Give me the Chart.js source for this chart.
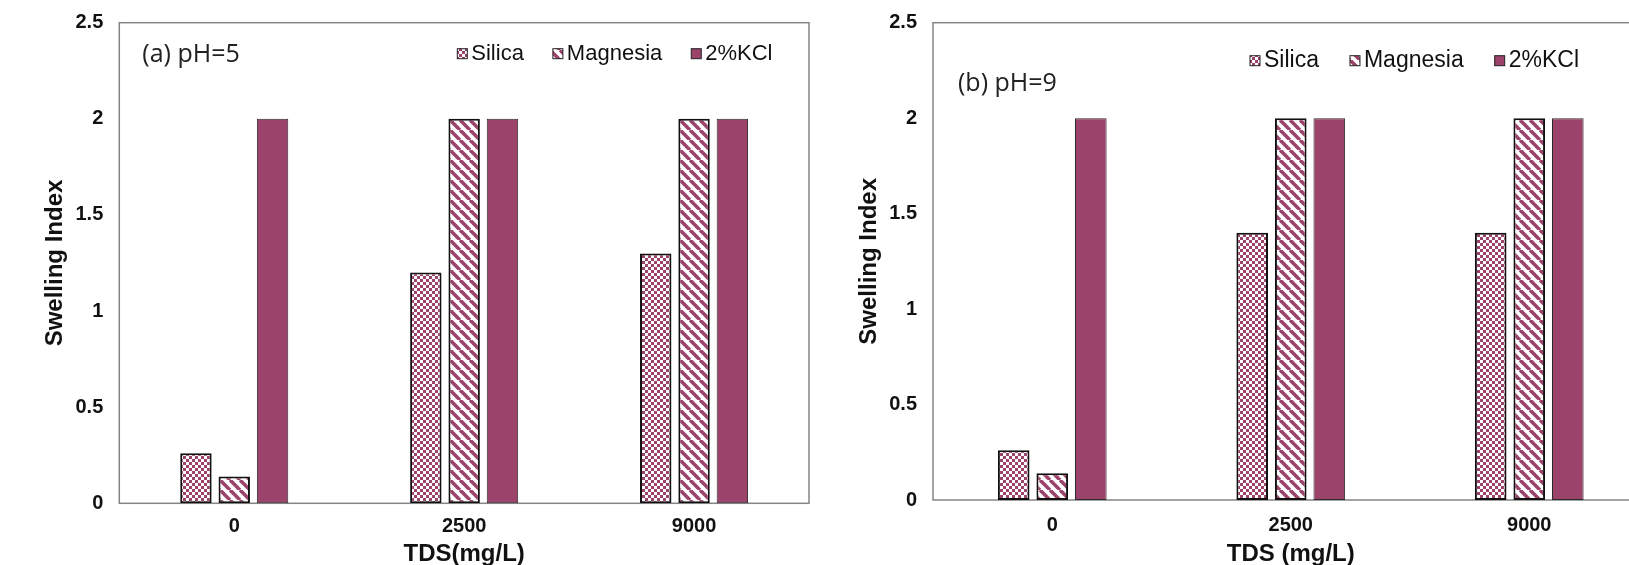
<!DOCTYPE html>
<html>
<head>
<title>Swelling Index</title>
<script src="https://cdn.jsdelivr.net/npm/chart.js"></script>
<style>
  html, body { margin: 0; padding: 0; background: #fff; overflow: hidden; }
  #wrap { position: relative; width: 1629px; height: 565px; overflow: hidden; }
  #left { position: absolute; left: 0; top: 0; width: 820px; height: 565px; }
  #right { position: absolute; left: 820px; top: 0; width: 850px; height: 565px; }
</style>
</head>
<body>
<div id="wrap">
  <div id="left"><canvas id="chartA"></canvas></div>
  <div id="right"><canvas id="chartB"></canvas></div>
</div>

<script>
// values
const categories = ['0', '2500', '9000'];
const seriesNames = ['Silica', 'Magnesia', '2%KCl'];
const yTicks = [0, 0.5, 1, 1.5, 2, 2.5];

const silicaPH5 = [0.26, 1.2, 1.3];
const magnesiaPH5 = [0.14, 2, 2];
const kclPH5 = [2, 2, 2];

const silicaPH9 = [0.26, 1.4, 1.4];
const magnesiaPH9 = [0.14, 2, 2];
const kclPH9 = [2, 2, 2];

const maroon = '#9b436b';

function makePattern(size, paint) {
    const c = document.createElement('canvas');
    c.width = size; c.height = size;
    const g = c.getContext('2d');
    paint(g, size);
    return g.createPattern(c, 'repeat');
}

// checker fill for silica
const checker = makePattern(6, (g, s) => {
    g.fillStyle = maroon;
    g.fillRect(0, 0, s, s);
    g.fillStyle = '#fff';
    g.fillRect(0, 0, 3, 3);
    g.fillRect(3, 3, 3, 3);
});

// "\" stripes for magnesia
const stripes = makePattern(10, (g, s) => {
    g.fillStyle = '#fff';
    g.fillRect(0, 0, s, s);
    g.strokeStyle = maroon;
    g.lineWidth = 3.6;
    for (const o of [-s, 0, s]) {
        g.beginPath();
        g.moveTo(o, 0);
        g.lineTo(o + s, s);
        g.stroke();
    }
});

// grey box around the plot area
const framePlugin = {
    id: 'frame',
    beforeDatasetsDraw(chart) {
        const {ctx, chartArea: a} = chart;
        ctx.save();
        ctx.strokeStyle = '#858585';
        ctx.lineWidth = 1.5;
        ctx.strokeRect(a.left, a.top, a.right - a.left, a.bottom - a.top);
        ctx.restore();
    }
};

// "(a) pH=5" style label inside the plot
const panelLabel = {
    id: 'panelLabel',
    afterDatasetsDraw(chart, args, opts) {
        const {ctx, chartArea: a} = chart;
        ctx.save();
        ctx.font = opts.size + 'px "Open Sans", sans-serif';
        ctx.fillStyle = '#222';
        ctx.textBaseline = 'middle';
        ctx.fillText(opts.text, a.left + opts.x, a.top + opts.y);
        ctx.restore();
    }
};

// legend drawn inside the plot area, top right
const insideLegend = {
    id: 'insideLegend',
    afterDatasetsDraw(chart, args, opts) {
        const {ctx, chartArea: a} = chart;
        const box = opts.box;
        let x = a.left + opts.x;
        const y = a.top + opts.y;
        ctx.save();
        ctx.font = opts.size + 'px "Liberation Sans", Arial, sans-serif';
        ctx.textBaseline = 'middle';
        chart.data.datasets.forEach(ds => {
            ctx.fillStyle = ds.backgroundColor;
            ctx.fillRect(x, y - box / 2, box, box);
            ctx.strokeStyle = '#222';
            ctx.lineWidth = 1;
            ctx.strokeRect(x, y - box / 2, box, box);
            x += box + opts.gap;
            ctx.fillStyle = '#111';
            ctx.fillText(ds.label, x, y);
            x += ctx.measureText(ds.label).width + opts.spacing;
        });
        ctx.restore();
    }
};

function makeDatasets(silica, magnesia, kcl) {
    return [
        { label: seriesNames[0], data: silica, backgroundColor: checker, borderColor: '#111', borderWidth: 2 },
        { label: seriesNames[1], data: magnesia, backgroundColor: stripes, borderColor: '#111', borderWidth: 2 },
        { label: seriesNames[2], data: kcl, backgroundColor: maroon, borderColor: '#2a2a2a', borderWidth: 1 }
    ];
}

function makeChart(id, cfg) {
    const tickFont = { family: '"Liberation Sans", Arial, sans-serif', size: 20, weight: 'bold' };
    const titleFont = { family: '"Liberation Sans", Arial, sans-serif', size: 24, weight: 'bold', lineHeight: 0.9 };

    new Chart(document.getElementById(id), {
        type: 'bar',
        data: {
            labels: categories,
            datasets: makeDatasets(cfg.silica, cfg.magnesia, cfg.kcl).map(d => Object.assign(d, {
                borderSkipped: false,
                categoryPercentage: cfg.catPct,
                barPercentage: 0.82
            }))
        },
        options: {
            responsive: true,
            maintainAspectRatio: false,
            animation: false,
            layout: { padding: { left: 0, right: cfg.padRight, top: 22.7, bottom: 0 } },
            plugins: {
                legend: { display: false },
                tooltip: { enabled: false },
                panelLabel: { text: cfg.label, size: 25, x: cfg.labelX, y: cfg.labelY },
                insideLegend: { size: cfg.legendSize, box: 10, gap: 4, spacing: cfg.legendSpacing, x: cfg.legendX, y: cfg.legendY }
            },
            scales: {
                x: {
                    grid: { display: false, drawTicks: false },
                    border: { display: false },
                    ticks: { color: '#111', font: tickFont, padding: cfg.xTickPad },
                    title: { display: true, text: cfg.xTitle, color: '#111', font: titleFont, padding: 0 },
                    afterFit: s => { s.height = 565 - cfg.zeroY; s.paddingLeft = 0; s.paddingRight = 0; }
                },
                y: {
                    min: 0,
                    max: 2.5,
                    afterBuildTicks: s => { s.ticks = yTicks.map(v => ({ value: v })); },
                    grid: { display: false, drawTicks: false },
                    border: { display: false },
                    ticks: { color: '#111', font: tickFont, padding: 16, callback: v => String(v) },
                    title: { display: true, text: 'Swelling Index', color: '#111', font: { family: '"Liberation Sans", Arial, sans-serif', size: 24, weight: 'bold' }, padding: { top: cfg.yTitlePad, bottom: 0 } },
                    afterFit: s => { s.width = cfg.axisX; s.paddingTop = 0; s.paddingBottom = 0; }
                }
            }
        },
        plugins: [framePlugin, panelLabel, insideLegend]
    });
}

makeChart('chartA', {
    silica: silicaPH5, magnesia: magnesiaPH5, kcl: kclPH5,
    label: '(a) pH=5', labelX: 23, labelY: 32,
    legendSize: 22, legendX: 338, legendY: 31, legendSpacing: 29,
    xTitle: 'TDS(mg/L)', xTickPad: 11,
    axisX: 119.3, padRight: 11, zeroY: 503.3, yTitlePad: 41, catPct: 0.5
});

makeChart('chartB', {
    silica: silicaPH9, magnesia: magnesiaPH9, kcl: kclPH9,
    label: '(b) pH=9', labelX: 25, labelY: 61,
    legendSize: 23, legendX: 317, legendY: 38, legendSpacing: 31,
    xTitle: 'TDS (mg/L)', xTickPad: 13,
    axisX: 113, padRight: 21.5, zeroY: 500, yTitlePad: 35, catPct: 0.485
});
</script>
</body>
</html>
